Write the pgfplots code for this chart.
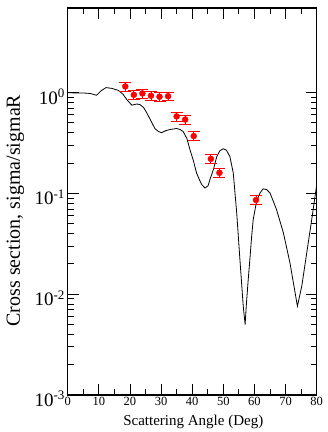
\documentclass[border=0pt]{standalone}
\usepackage{fontspec}
\setmainfont{Liberation Serif}
\usepackage{pgfplots}
\pgfplotsset{compat=1.18}
\begin{document}
\begin{tikzpicture}
\begin{axis}[
  scale only axis, width=249pt, height=387pt,
  ymode=log, xmin=0, xmax=80, ymin=1e-3, ymax=6.9,
  xtick={0,10,...,80}, minor x tick num=1,
  ytick={1e-3,1e-2,1e-1,1},
  yticklabels={{10\raisebox{0.75ex}{\fontsize{13}{13}\selectfont -3}},{10\raisebox{0.75ex}{\fontsize{13}{13}\selectfont -2}},{10\raisebox{0.75ex}{\fontsize{13}{13}\selectfont -1}},{10\raisebox{0.75ex}{\fontsize{13}{13}\selectfont 0}}},
  /pgf/number format/assume math mode=true,
  tick align=inside,
  major tick length=11pt, minor tick length=6pt,
  every tick/.style={black, line width=0.9pt},
  axis line style={line width=1.2pt},
  xticklabel style={font=\fontsize{12.5}{12.5}\selectfont, inner sep=2pt},
  yticklabel style={font=\fontsize{19}{19}\selectfont, inner sep=3pt, yshift=-4pt},
  xlabel={Scattering Angle (Deg)},
  ylabel={Cross section, sigma/sigmaR},
  xlabel style={font=\fontsize{15}{15}\selectfont, at={(axis description cs:0.5044,-0.0685)}, anchor=center},
  ylabel style={font=\fontsize{20}{20}\selectfont, at={(axis description cs:-0.2096,0.4767)}, anchor=center},
  clip=true,
]
\addplot[black, line width=0.8pt] coordinates {
(0,1.00) (2.35,0.99) (5.0,0.99) (7.2,0.98) (9.3,0.94) (10.7,1.04) (12.3,1.12)
(14.2,1.10) (16.3,1.05) (17.8,0.96) (19.0,0.85) (20.6,0.75) (22.2,0.77) (23.2,0.76)
(24.4,0.71) (25.4,0.63) (26.8,0.52) (28.0,0.44) (29.2,0.41) (30.2,0.40) (31.6,0.42)
(32.9,0.43) (35.0,0.44) (36.1,0.43) (37.1,0.41) (38.3,0.35) (39.3,0.27) (40.4,0.21)
(41.4,0.159) (42.3,0.137) (43.1,0.122) (44.1,0.113) (45.1,0.119) (45.7,0.137)
(46.8,0.172) (47.9,0.232) (48.9,0.265) (50.0,0.277) (51.0,0.268) (52.1,0.232)
(53.2,0.159) (54.3,0.064) (55.4,0.0205) (56.4,0.0076) (57.0,0.0050) (57.4,0.0079)
(58.0,0.014) (58.6,0.0236) (59.1,0.0375) (59.6,0.055) (60.7,0.084) (61.8,0.101)
(62.8,0.111) (63.9,0.109) (65.0,0.101) (67.1,0.069) (69.3,0.0405) (71.4,0.0205)
(72.7,0.012) (73.8,0.0076) (75.2,0.012) (76.8,0.0257) (78.4,0.055) (80.0,0.122)
};
\addplot[red, only marks, mark=*, mark size=3pt,
  error bars/.cd, y dir=both, y explicit relative,
  error bar style={red, line width=0.9pt},
  error mark options={red, rotate=90, mark size=6pt, line width=1pt}]
coordinates {
(18.5,1.15) +- (0,0.1)
(21.25,0.95) +- (0,0.1)
(24.0,0.98) +- (0,0.1)
(26.75,0.93) +- (0,0.1)
(29.5,0.91) +- (0,0.1)
(32.25,0.92) +- (0,0.1)
(35.0,0.58) +- (0,0.1)
(37.75,0.54) +- (0,0.1)
(40.5,0.37) +- (0,0.1)
(46.0,0.22) +- (0,0.1)
(48.75,0.16) +- (0,0.1)
(60.5,0.086) +- (0,0.1)
};
\end{axis}
\pgfresetboundingbox
\path (current axis.south west) ++(-67.7pt,-37pt) coordinate (bbA);
\path (current axis.north east) ++(10.3pt,8pt) coordinate (bbB);
\useasboundingbox (bbA) rectangle (bbB);
\end{tikzpicture}
\end{document}
